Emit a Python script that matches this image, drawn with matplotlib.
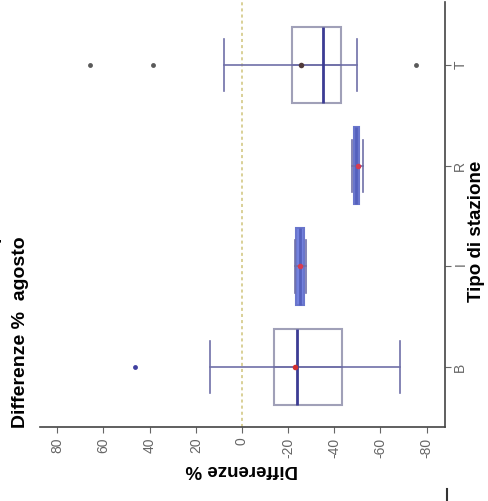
import matplotlib
matplotlib.use("Agg")
import matplotlib.pyplot as plt
from matplotlib.lines import Line2D

plt.rcParams['font.family'] = ['Liberation Sans', 'DejaVu Sans']

# Differenze % agosto, per tipo di stazione
categorie = ['B', 'I', 'R', 'T']
q1 = [-13.9, -23.5, -48.6, -21.6]
mediane = [-23.8, -25.1, -49.6, -35.0]
q3 = [-43.3, -26.8, -50.6, -42.9]
baffo_alto = [13.9, -22.8, -47.5, 7.8]
baffo_basso = [-68.4, -27.6, -52.3, -49.8]
medie = [-22.9, -25.1, -50.2, -25.5]
outlier = [[46.3], [], [], [65.8, 38.5, -75.3]]
tick_valori = [80, 60, 40, 20, 0, -20, -40, -60, -80]

colori_box = ['white', '#7482de', '#7482de', 'white']
colori_bordo = ['#a0a0b8', '#6a76cc', '#6a76cc', '#a0a0b8']
colori_mediana = ['#3c3c94', '#5460bc', '#5460bc', '#3c3c94']
colori_media = ['#d03030', '#d83a50', '#d83a50', '#503a3a']
colori_outlier = ['#4040a0', '#505050', '#505050', '#5a5a5a']

fig = plt.figure(figsize=(4.89, 5.02), dpi=100)
ax = fig.add_axes([40 / 489, 74 / 502, 405 / 489, 425 / 502])

stats = []
for i, c in enumerate(categorie):
    stats.append(dict(label=c, q1=q1[i], med=mediane[i], q3=q3[i],
                      whislo=baffo_basso[i], whishi=baffo_alto[i],
                      fliers=[]))

bp = ax.bxp(stats, positions=range(1, len(categorie) + 1), widths=0.76,
            orientation='horizontal', patch_artist=True, showfliers=False,
            showcaps=True)
for i, box in enumerate(bp['boxes']):
    box.set_facecolor(colori_box[i])
    box.set_edgecolor(colori_bordo[i])
    box.set_linewidth(1.5)
for i, med in enumerate(bp['medians']):
    med.set_color(colori_mediana[i])
    med.set_linewidth(2.0)
for w in bp['whiskers']:
    w.set_color('#7070a8')
    w.set_linewidth(1.2)
for k, cap in enumerate(bp['caps']):
    cap.set_color('#7070a8')
    cap.set_linewidth(1.2)
    pos = k // 2 + 1
    cap.set_ydata([pos - 0.26, pos + 0.26])

for i in range(len(categorie)):
    ax.plot(outlier[i], [i + 1] * len(outlier[i]), 'o', ms=3.5,
            color=colori_outlier[i], mec='none', zorder=4)
    ax.plot(medie[i], i + 1, 'o', ms=4, color=colori_media[i],
            mec='none', zorder=5)

ax.axvline(0, color='#cfc47a', lw=1.1, ls=(0, (2, 2)), zorder=0)

ax.set_xlim(87.5, -88)
ax.set_ylim(0.404, 4.626)
ax.set_xticks(tick_valori)
ax.set_xticklabels([str(v) for v in tick_valori])
ax.set_yticks(range(1, len(categorie) + 1))
ax.set_yticklabels(categorie)
ax.yaxis.tick_right()

for s in ['top', 'left']:
    ax.spines[s].set_visible(False)
for s in ['bottom', 'right']:
    ax.spines[s].set_color('#444444')
    ax.spines[s].set_linewidth(1.2)

ax.tick_params(axis='x', labelrotation=90, labelsize=10, colors='#666666',
               length=4, pad=3)
ax.tick_params(axis='y', labelrotation=90, labelsize=10, colors='#666666',
               length=4, pad=2)

fig.text(21 / 489, 1 - 428 / 502, 'Differenze %  agosto', rotation=90,
         ha='center', va='bottom', fontsize=14, fontweight='bold')
fig.text(242 / 489, 1 - 470 / 502, 'Differenze %', rotation=180,
         ha='center', va='center', fontsize=13.5, fontweight='bold')
fig.text(477 / 489, 1 - 231 / 502, 'Tipo di stazione', rotation=90,
         ha='center', va='center', fontsize=13.5, fontweight='bold')
# pezzi di altri grafici tagliati ai bordi
fig.text(-6 / 489, 1 - 187 / 502, 'Tipo di stazione', rotation=90,
         ha='center', va='center', fontsize=14, fontweight='bold')
fig.add_artist(Line2D([447 / 489, 447 / 489], [0, 12 / 502],
                      color='#333333', lw=1.5))

fig.savefig('out.png', dpi=100)
